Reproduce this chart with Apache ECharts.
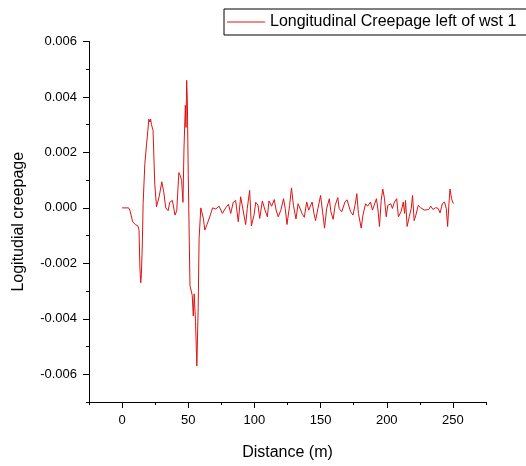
<!DOCTYPE html>
<html>
<head>
<meta charset="utf-8">
<script src="https://cdn.jsdelivr.net/npm/echarts@6/dist/echarts.min.js"></script>
<style>html,body{margin:0;padding:0;background:#fff;}#c{width:526px;height:466px;}</style>
</head>
<body>
<div id="c"></div>
<script>
var seriesName = 'Longitudinal Creepage left of wst 1';
var xTicks = [0, 50, 100, 150, 200, 250];
var xMinorTicks = [-25, 25, 75, 125, 175, 225, 275];
var yTicks = [-0.006, -0.004, -0.002, 0, 0.002, 0.004, 0.006];
var yMinorTicks = [-0.007, -0.005, -0.003, -0.001, 0.001, 0.003, 0.005];

var distance = [0,5,6,8,10,12,12.8,13.5,14.1,14.6,15.3,15.9,17.2,18.5,19.5,20.2,21,21.6,22.2,23.4,24.7,26,28,30,31.5,33,34.8,36,38,40,41.3,42,42.9,44,45,46,46.8,47.8,48.3,48.8,49.3,50,51.3,53,53.8,54.5,55.5,56.5,57.5,58.2,59.5,60.3,61.5,62.5,64.2,65.2,67.5,68.3,70.8,73.3,75.8,78.4,80.4,82.1,84,85.8,87.8,89.6,90.8,93.4,94.6,96.4,97.7,99.7,101,102.7,104,106,108,109.8,111,113,115,116.4,118,120,122,123.3,124.6,126.6,128,129.5,131.4,133,134.5,136,137.7,139.5,141,142.5,143.6,145,146.2,148,150,151.5,153,154.6,156.6,157.8,159.5,161,163,164,166,168.4,170,172.7,174.5,176,177.4,178.6,180.7,182,184,185.5,187.7,189.2,190.7,192.2,193.4,194.5,195.8,197,198.3,199.6,200.8,203,204.3,205.8,207.5,208.8,210.8,212.5,213.5,214.2,215.4,217,218.5,219.5,220.7,222,223.8,225.5,227,228.5,230,231.6,233.3,235,237,238.8,240.3,242,243.6,245,246,247,247.8,249,250.3];
var creepage = [0,0,-0.0001,-0.0005,-0.0006,-0.00065,-0.0008,-0.0022,-0.0027,-0.0024,-0.0013,0.00015,0.0016,0.0023,0.0028,0.0032,0.0031,0.0032,0.003,0.0028,0.00086,0.00004,0.0004,0.00094,0.00057,0,-0.0001,0.0002,0.00027,-0.00026,-0.0001,0.0005,0.00127,0.00116,0.00098,0.0002,0.00216,0.0037,0.0029,0.0046,0.0039,0.0012,-0.0028,-0.00315,-0.0039,-0.0031,-0.0041,-0.0057,-0.0036,-0.0011,0,0.00004,-0.0004,-0.0008,-0.0006,-0.00055,-0.00014,0,-0.00004,0.00006,-0.0002,0.00001,0.00013,-0.0002,0.0002,0.00027,-0.0005,0.0004,0.00045,-0.0006,-0.00002,0.00063,-0.00065,-0.00026,0.0002,0.0001,-0.00038,0.00025,-0.00008,-0.00032,0.00025,0.00006,0.0003,-0.00008,-0.00032,-0.00008,0.00033,-0.00002,-0.0006,0.00009,0.00072,0.00009,-0.0004,0.00015,0.00021,-0.0002,-0.00034,0.00021,-0.00008,-0.00002,0.00021,-0.0002,-0.00046,-0.00002,0.00045,-0.00014,-0.00073,-0.00002,0.00033,-0.00014,-0.00041,0.00009,0.00037,-0.00002,-0.00014,0.00021,0.00029,-0.00014,-0.00026,0.00009,0.00051,-0.0002,-0.00073,-0.00026,0.00015,0.00006,0.00021,-0.00008,-0.00002,0.00033,-0.00008,-0.00067,0.00027,0.00068,0.00033,-0.00032,0.00009,0.00015,-0.00002,0.00021,0.00033,-0.00032,-0.00014,0.00021,-0.0002,0.00027,-0.00067,-0.00032,-0.00002,0.00045,-0.00046,-0.00026,0.00009,0.00001,0.00004,-0.00008,-0.00002,-0.00006,0.00006,-0.00006,0.00001,-0.00002,-0.00018,0.00015,0.00021,-0.00002,-0.00067,0.00015,0.00068,0.00033,0.00015];

var FONT = 'Arial, "Liberation Sans", sans-serif';
var data = distance.map(function (d, i) { return [d, creepage[i]]; });

var chart = echarts.init(document.getElementById('c'), null, {renderer: 'canvas'});
var axisLineStyle = {color: '#000', width: 1};
chart.setOption({
  animation: false,
  backgroundColor: '#fff',
  grid: {left: 89, right: 40, top: 41.5, bottom: 56, containLabel: false},
  legend: {
    left: 224, top: 9,
    padding: [5, 16, 5, 3],
    itemWidth: 38, itemHeight: 1,
    borderColor: '#000', borderWidth: 1,
    icon: 'rect',
    textStyle: {fontSize: 16, fontFamily: FONT, color: '#000'},
    data: [seriesName]
  },
  xAxis: [{
    type: 'value', min: -25, max: 275, position: 'bottom',
    name: 'Distance (m)', nameLocation: 'middle', nameGap: 43,
    nameTextStyle: {fontSize: 16, fontFamily: FONT, color: '#000'},
    axisLine: {show: true, onZero: false, lineStyle: axisLineStyle},
    axisTick: {show: true, customValues: xTicks, length: 6, lineStyle: axisLineStyle},
    axisLabel: {customValues: xTicks, fontSize: 13, fontFamily: FONT, color: '#000', margin: 12},
    splitLine: {show: false}
  }, {
    type: 'value', min: -25, max: 275, position: 'bottom', offset: 0,
    axisLine: {show: false, onZero: false},
    axisTick: {show: true, customValues: xMinorTicks, length: 3, lineStyle: axisLineStyle},
    axisLabel: {show: false},
    splitLine: {show: false}
  }],
  yAxis: [{
    type: 'value', min: -0.007, max: 0.006, position: 'left',
    name: 'Logitudial creepage', nameLocation: 'middle', nameGap: 62,
    nameTextStyle: {fontSize: 16, fontFamily: FONT, color: '#000'},
    axisLine: {show: true, onZero: false, lineStyle: axisLineStyle},
    axisTick: {show: true, customValues: yTicks, length: 6, lineStyle: axisLineStyle},
    axisLabel: {customValues: yTicks, fontSize: 13, fontFamily: FONT, color: '#000', margin: 12,
      formatter: function (v) { return (Math.abs(v) < 1e-12 ? 0 : v).toFixed(3); }},
    splitLine: {show: false}
  }, {
    type: 'value', min: -0.007, max: 0.006, position: 'left', offset: 0,
    axisLine: {show: false, onZero: false},
    axisTick: {show: true, customValues: yMinorTicks, length: 3, lineStyle: axisLineStyle},
    axisLabel: {show: false},
    splitLine: {show: false}
  }],
  series: [{
    name: seriesName,
    type: 'line',
    xAxisIndex: 0, yAxisIndex: 0,
    data: data,
    symbol: 'none',
    color: '#dc1414',
    lineStyle: {color: '#dc1414', width: 1}
  }]
});
</script>
</body>
</html>
